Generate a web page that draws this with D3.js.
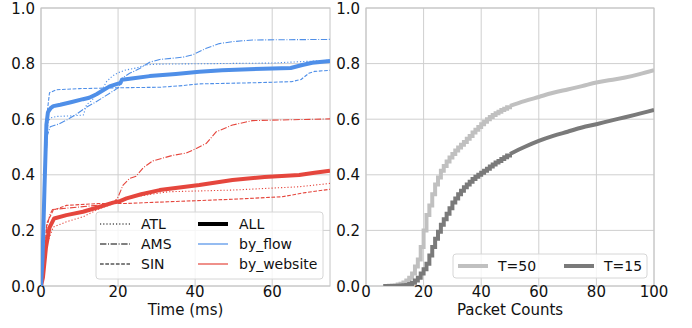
<!DOCTYPE html>
<html>
<head>
<meta charset="utf-8">
<script src="https://cdn.jsdelivr.net/npm/d3@7"></script>
<style>
  body { margin: 0; background: #fff; }
  svg { font-family: "DejaVu Sans", sans-serif; }
</style>
</head>
<body>
<svg id="chart" width="692" height="328"></svg>
<script>
// left panel: CDF of time (ms), [x, y] readings
const flowAll = [[0,0],[0.4,0.1],[0.9,0.35],[1.4,0.58],[1.8,0.625],[2.5,0.64],[3.2,0.647],[5,0.652],[8,0.662],[10.9,0.672],[12.5,0.677],[14.4,0.69],[16,0.703],[17.8,0.718],[20,0.728],[20.6,0.73],[21,0.742],[24,0.747],[28.2,0.755],[35,0.763],[41.1,0.771],[47,0.776],[54,0.78],[60,0.782],[64.8,0.784],[67.8,0.795],[70.4,0.803],[75,0.809]]
const flowAtl = [[0,0],[0.6,0.1],[1.2,0.45],[1.8,0.59],[2.5,0.605],[4,0.61],[8,0.612],[11,0.615],[11.8,0.652],[13,0.665],[14.5,0.69],[16,0.71],[17,0.735],[18.5,0.755],[20,0.767],[22,0.777],[25,0.785],[27,0.795],[30,0.798],[45,0.8],[60,0.802],[66,0.806],[75,0.812]]
const flowAms = [[0,0],[0.7,0.15],[1.2,0.42],[1.6,0.54],[2.4,0.573],[4.5,0.582],[6.8,0.598],[9.4,0.62],[12,0.645],[14,0.66],[16.3,0.68],[18,0.695],[19.7,0.71],[20.3,0.715],[20.8,0.745],[23,0.765],[25.6,0.782],[28.2,0.805],[30.8,0.815],[36.8,0.823],[39.4,0.832],[42.9,0.855],[46.3,0.872],[49.7,0.879],[54.9,0.885],[75,0.887]]
const flowSin = [[0,0],[0.8,0.3],[1.4,0.6],[2.2,0.695],[4,0.706],[10,0.71],[20,0.713],[31,0.715],[36,0.72],[41,0.727],[55,0.731],[65,0.735],[67.5,0.743],[69.5,0.765],[71,0.772],[75,0.776]]

const webAll = [[0,0],[0.5,0.03],[1.3,0.14],[2.2,0.21],[3.4,0.243],[6.6,0.255],[10.9,0.267],[15.3,0.285],[18.7,0.3],[20.5,0.305],[22.2,0.315],[26,0.33],[30.8,0.345],[41.1,0.363],[49.7,0.381],[58,0.392],[67,0.399],[71,0.407],[75,0.415]]
const webAtl = [[0,0],[0.7,0.04],[1.5,0.15],[3.2,0.212],[6.6,0.231],[10.9,0.249],[15.3,0.279],[20.1,0.303],[24.4,0.321],[33,0.339],[49.7,0.345],[67,0.357],[75,0.369]]
const webAms = [[0,0],[0.6,0.05],[1.5,0.21],[2.4,0.261],[3,0.275],[6.6,0.28],[15.3,0.291],[18.7,0.297],[20,0.32],[21.3,0.363],[23,0.387],[24.7,0.395],[26.5,0.425],[29,0.45],[34.2,0.47],[37.7,0.478],[40.3,0.495],[42.9,0.513],[45.5,0.555],[49.7,0.579],[54.9,0.595],[75,0.601]]
const webSin = [[0,0],[0.6,0.06],[1.5,0.226],[3.2,0.273],[6.6,0.29],[15.3,0.297],[22.2,0.297],[33,0.303],[49.7,0.312],[62.6,0.321],[68.6,0.336],[75,0.348]]

// right panel: CDF of packet counts (stepped part up to 50, smooth tail after)
const packets = [6,8,9,10,11,12,13,14,15,16,17,18,19,20,21,22,23,24,25,26,27,28,29,30,31,32,33,34,35,36,37,38,39,40,41,42,43,44,45,46,47,48,49,50]
const cdfT50 = [0,0.001,0.002,0.003,0.005,0.008,0.013,0.02,0.03,0.045,0.07,0.095,0.14,0.2,0.255,0.29,0.33,0.365,0.39,0.415,0.432,0.448,0.462,0.475,0.487,0.498,0.508,0.518,0.53,0.54,0.552,0.562,0.572,0.582,0.591,0.6,0.608,0.615,0.621,0.627,0.633,0.638,0.643,0.648]
const cdfT15 = [0,0,0,0,0.001,0.002,0.003,0.004,0.007,0.012,0.02,0.03,0.045,0.06,0.08,0.11,0.14,0.17,0.195,0.22,0.24,0.26,0.28,0.3,0.315,0.33,0.343,0.355,0.365,0.375,0.385,0.393,0.4,0.407,0.415,0.422,0.43,0.437,0.444,0.45,0.457,0.463,0.469,0.475]
const tailPackets = [50,55,60,65,70,75,80,85,90,95,100]
const tailT50 = [0.648,0.665,0.68,0.695,0.707,0.719,0.732,0.741,0.75,0.762,0.776]
const tailT15 = [0.475,0.5,0.522,0.54,0.555,0.57,0.582,0.595,0.607,0.62,0.633]

const yTicks = [0, 0.2, 0.4, 0.6, 0.8, 1.0]
const timeTicks = [0, 20, 40, 60]
const packetTicks = [0, 20, 40, 60, 80, 100]

const BLUE = '#4f8fe8'
const RED = '#e5463d'
const LIGHT = '#c0c0c0'
const DARK = '#7a7a7a'
const GRID = '#cfcfcf'

const dashes = { ATL: '1.2,2', AMS: '6.4,1.6,1,1.6', SIN: '3.7,1.6' }

const svg = d3.select('#chart')

const plotTop = 8, plotBottom = 286
const y = d3.scaleLinear().domain([0, 1]).range([plotBottom, plotTop])

function frame(g, x, xTicks, xLabel, id) {
  const [x0, x1] = x.range()
  g.append('g').selectAll('line').data(xTicks).enter().append('line')
    .attr('x1', d => x(d)).attr('x2', d => x(d))
    .attr('y1', plotTop).attr('y2', plotBottom)
    .attr('stroke', GRID).attr('stroke-width', 1)
  g.append('g').selectAll('line').data(yTicks).enter().append('line')
    .attr('x1', x0).attr('x2', x1)
    .attr('y1', d => y(d)).attr('y2', d => y(d))
    .attr('stroke', GRID).attr('stroke-width', 1)
  g.append('rect')
    .attr('x', x0).attr('y', plotTop).attr('width', x1 - x0).attr('height', plotBottom - plotTop)
    .attr('fill', 'none').attr('stroke', '#c4c4c4').attr('stroke-width', 1)

  g.append('g').selectAll('text').data(xTicks).enter().append('text')
    .attr('x', d => x(d)).attr('y', 297)
    .attr('text-anchor', 'middle').attr('font-size', 15).attr('fill', '#111')
    .text(d => d)
  g.append('g').selectAll('text').data(yTicks).enter().append('text')
    .attr('x', x0 - 6).attr('y', d => y(d) + 5.5)
    .attr('text-anchor', 'end').attr('font-size', 15).attr('fill', '#111')
    .text(d => d3.format('.1f')(d))
  g.append('text')
    .attr('x', (x0 + x1) / 2).attr('y', 315)
    .attr('text-anchor', 'middle').attr('font-size', 15).attr('fill', '#111')
    .text(xLabel)

  g.append('clipPath').attr('id', id)
    .append('rect').attr('x', x0).attr('y', plotTop - 3).attr('width', x1 - x0).attr('height', plotBottom - plotTop + 3)
}

// ---- left panel
const xTime = d3.scaleLinear().domain([0, 75]).range([41, 330])
const left = svg.append('g')
frame(left, xTime, timeTicks, 'Time (ms)', 'clipL')

const lineT = d3.line().x(d => xTime(d[0])).y(d => y(d[1]))
const leftSeries = [
  { data: webAtl, color: RED, w: 1.1, dash: dashes.ATL },
  { data: webAms, color: RED, w: 1.1, dash: dashes.AMS },
  { data: webSin, color: RED, w: 1.1, dash: dashes.SIN },
  { data: flowAtl, color: BLUE, w: 1.1, dash: dashes.ATL },
  { data: flowAms, color: BLUE, w: 1.1, dash: dashes.AMS },
  { data: flowSin, color: BLUE, w: 1.1, dash: dashes.SIN },
  { data: webAll, color: RED, w: 4, dash: null },
  { data: flowAll, color: BLUE, w: 4, dash: null }
]
left.append('g').attr('clip-path', 'url(#clipL)')
  .selectAll('path').data(leftSeries).enter().append('path')
  .attr('d', d => lineT(d.data))
  .attr('fill', 'none')
  .attr('stroke', d => d.color)
  .attr('stroke-width', d => d.w)
  .attr('stroke-dasharray', d => d.dash)
  .attr('stroke-linejoin', 'round')

// left legend
const legL = left.append('g')
legL.append('rect').attr('x', 96).attr('y', 212).attr('width', 227).attr('height', 67)
  .attr('rx', 3).attr('fill', 'rgba(255,255,255,0.8)').attr('stroke', '#d6d6d6')
const legItems = [
  { label: 'ATL', col: 0, row: 0, color: '#000', w: 1, dash: dashes.ATL },
  { label: 'AMS', col: 0, row: 1, color: '#000', w: 1, dash: dashes.AMS },
  { label: 'SIN', col: 0, row: 2, color: '#000', w: 1, dash: dashes.SIN },
  { label: 'ALL', col: 1, row: 0, color: '#000', w: 4, dash: null },
  { label: 'by_flow', col: 1, row: 1, color: BLUE, w: 1.2, dash: null },
  { label: 'by_website', col: 1, row: 2, color: RED, w: 1.2, dash: null }
]
const colX = [100, 198]
const rowY = [224, 244, 264]
const li = legL.selectAll('g.item').data(legItems).enter().append('g')
li.append('line')
  .attr('x1', d => colX[d.col]).attr('x2', d => colX[d.col] + 30)
  .attr('y1', d => rowY[d.row]).attr('y2', d => rowY[d.row])
  .attr('stroke', d => d.color).attr('stroke-width', d => d.w)
  .attr('stroke-dasharray', d => d.dash)
li.append('text')
  .attr('x', d => colX[d.col] + 41).attr('y', d => rowY[d.row] + 5)
  .attr('font-size', 14).attr('fill', '#111')
  .text(d => d.label)

// ---- right panel
const xPk = d3.scaleLinear().domain([0, 100]).range([366, 654])
const right = svg.append('g')
frame(right, xPk, packetTicks, 'Packet Counts', 'clipR')

const stepP = d3.line().x(d => xPk(d[0])).y(d => y(d[1])).curve(d3.curveStepAfter)
const tailP = d3.line().x(d => xPk(d[0])).y(d => y(d[1])).curve(d3.curveMonotoneX)
const rightSeries = [
  { head: cdfT50, tail: tailT50, color: LIGHT },
  { head: cdfT15, tail: tailT15, color: DARK }
]
const rg = right.append('g').attr('clip-path', 'url(#clipR)')
  .selectAll('g').data(rightSeries).enter().append('g')
rg.append('path')
  .attr('d', d => stepP(packets.map((p, i) => [p, d.head[i]])))
  .attr('fill', 'none').attr('stroke', d => d.color).attr('stroke-width', 4)
rg.append('path')
  .attr('d', d => tailP(tailPackets.map((p, i) => [p, d.tail[i]])))
  .attr('fill', 'none').attr('stroke', d => d.color).attr('stroke-width', 4)

const legR = right.append('g')
legR.append('rect').attr('x', 453).attr('y', 254).attr('width', 194).attr('height', 24)
  .attr('rx', 3).attr('fill', 'rgba(255,255,255,0.8)').attr('stroke', '#d6d6d6')
const legRItems = [
  { label: 'T=50', x: 458, color: LIGHT },
  { label: 'T=15', x: 564, color: DARK }
]
const ri = legR.selectAll('g.item').data(legRItems).enter().append('g')
ri.append('line')
  .attr('x1', d => d.x).attr('x2', d => d.x + 30)
  .attr('y1', 266).attr('y2', 266)
  .attr('stroke', d => d.color).attr('stroke-width', 4)
ri.append('text')
  .attr('x', d => d.x + 40).attr('y', 271)
  .attr('font-size', 14).attr('fill', '#111')
  .text(d => d.label)
</script>
</body>
</html>
